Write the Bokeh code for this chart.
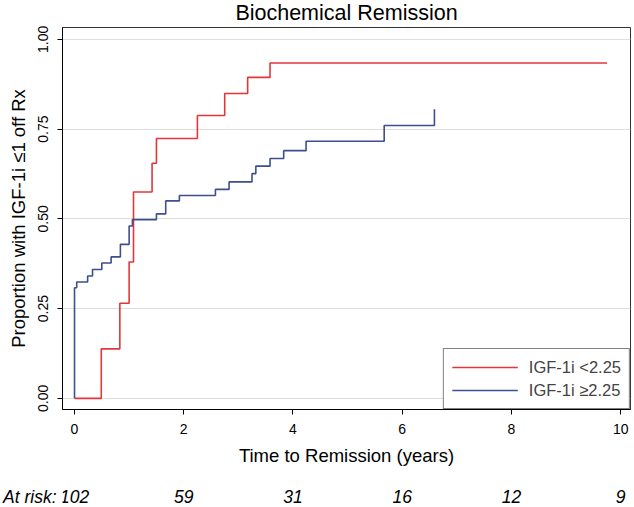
from bokeh.plotting import figure
from bokeh.layouts import column
from bokeh.models import (FixedTicker, NumeralTickFormatter, Range1d, Legend, LegendItem)
from bokeh.core.properties import value
from bokeh.embed import file_html
from bokeh.resources import INLINE

# Kaplan-Meier style step data (time in years, cumulative proportion)
red_time = [0, 0.49, 0.83, 1.0, 1.08, 1.42, 1.50, 2.25, 2.75, 3.17, 3.58, 9.75]
red_prop = [0, 0.138, 0.265, 0.38, 0.575, 0.655, 0.724, 0.788, 0.849, 0.894, 0.934, 0.934]

blue_time = [0, 0, 0.04, 0.24, 0.33, 0.50, 0.67, 0.84, 1.0, 1.06, 1.50, 1.67, 1.92,
             2.58, 2.83, 3.25, 3.32, 3.58, 3.83, 4.24, 5.67, 6.59, 6.59]
blue_prop = [0, 0.308, 0.324, 0.341, 0.359, 0.377, 0.394, 0.429, 0.48, 0.498, 0.514, 0.55,
             0.565, 0.582, 0.603, 0.626, 0.647, 0.668, 0.69, 0.716, 0.760, 0.760, 0.805]

series_labels = ["IGF-1i <2.25", "IGF-1i \u22652.25"]

x_ticks = [0, 2, 4, 6, 8, 10]
y_ticks = [0, 0.25, 0.5, 0.75, 1.0]

at_risk_time = [0, 2, 4, 6, 8, 10]
at_risk_count = ["102", "59", "31", "16", "12", "9"]

FONT = "Liberation Sans"
RED = "#e3363b"
BLUE = "#3d4f8e"

W = 634
x0, x1 = -0.22, 10.18
y0, y1 = -0.031, 1.033
LEFT, RIGHT = 62, 4
MAIN_H, RISK_H = 485, 22

p = figure(width=W, height=MAIN_H, output_backend="svg", toolbar_location=None,
           x_range=Range1d(x0, x1), y_range=Range1d(y0, y1),
           min_border_left=LEFT, min_border_right=RIGHT, min_border_top=27,
           min_border_bottom=MAIN_H - 409,
           title="Biochemical Remission")

p.title.align = "center"
p.title.vertical_align = "top"
p.title.text_font = FONT
p.title.text_font_size = "21.5px"
p.title.text_font_style = "normal"
p.title.text_color = "black"
p.title.standoff = 1

p.outline_line_color = "#333333"
p.outline_line_width = 1
p.background_fill_color = "white"
p.border_fill_color = "white"

p.xgrid.visible = False
p.ygrid.grid_line_color = "#dedede"
p.ygrid.grid_line_width = 1

p.xaxis.ticker = FixedTicker(ticks=x_ticks)
p.yaxis.ticker = FixedTicker(ticks=y_ticks)
p.yaxis.formatter = NumeralTickFormatter(format="0.00")
p.yaxis.major_label_orientation = "vertical"

for ax in (p.xaxis, p.yaxis):
    ax.axis_line_color = "black"
    ax.axis_line_width = 1
    ax.major_tick_line_color = "black"
    ax.major_tick_out = 5
    ax.major_tick_in = 0
    ax.minor_tick_line_color = None
    ax.major_label_text_font = FONT
    ax.major_label_text_color = "black"
    ax.axis_label_text_font = FONT
    ax.axis_label_text_font_style = "normal"
    ax.axis_label_text_font_size = "18.5px"
    ax.axis_label_text_color = "black"

p.xaxis.major_label_text_font_size = "14px"
p.yaxis.major_label_text_font_size = "14px"
p.xaxis.major_label_standoff = 9
p.yaxis.major_label_standoff = 9
p.xaxis.axis_label_standoff = 8
p.yaxis.axis_label_standoff = 7
p.xaxis.axis_label = "Time to Remission (years)"
p.yaxis.axis_label = "Proportion with IGF-1i \u22641 off Rx"

r_red = p.step(red_time, red_prop, mode="after", line_color=RED, line_width=1.6)
r_blue = p.step(blue_time, blue_prop, mode="after", line_color=BLUE, line_width=1.6)

legend = Legend(items=[LegendItem(label=series_labels[0], renderers=[r_red]),
                       LegendItem(label=series_labels[1], renderers=[r_blue])],
                location="bottom_right", margin=0, padding=8, spacing=3,
                glyph_width=66, glyph_height=20, label_height=20, label_standoff=11,
                label_text_font=FONT, label_text_font_size="16.5px",
                border_line_color="black", border_line_width=1,
                background_fill_color="white", background_fill_alpha=1)
p.add_layout(legend)

# at-risk row: a strip figure whose frame is aligned with the main frame (same x range)
q = figure(width=W, height=RISK_H, output_backend="svg", toolbar_location=None,
           x_range=Range1d(x0, x1), y_range=Range1d(0, 1),
           x_axis_type=None, min_border=0,
           min_border_left=LEFT, min_border_right=RIGHT, min_border_top=0, min_border_bottom=0)
q.outline_line_color = None
q.grid.visible = False
q.yaxis.ticker = FixedTicker(ticks=[])
q.yaxis.axis_line_color = None
q.yaxis.major_tick_line_color = None
q.yaxis.minor_tick_line_color = None
q.yaxis.major_tick_out = 0
q.yaxis.major_label_standoff = 0
q.yaxis.axis_label = "At risk:"
q.yaxis.axis_label_orientation = "horizontal"
q.yaxis.axis_label_standoff = 6
q.yaxis.axis_label_text_font = FONT
q.yaxis.axis_label_text_font_size = "17.5px"
q.yaxis.axis_label_text_font_style = "italic"
q.yaxis.axis_label_text_color = "black"
q.text(x=at_risk_time, y=[0.5] * len(at_risk_time), text=at_risk_count,
       text_align="center", text_baseline="middle", text_font=value(FONT),
       text_font_size="17.5px", text_font_style="italic", text_color="black")

layout = column(p, q, spacing=0)
open("out.html", "w").write(file_html(layout, INLINE))
